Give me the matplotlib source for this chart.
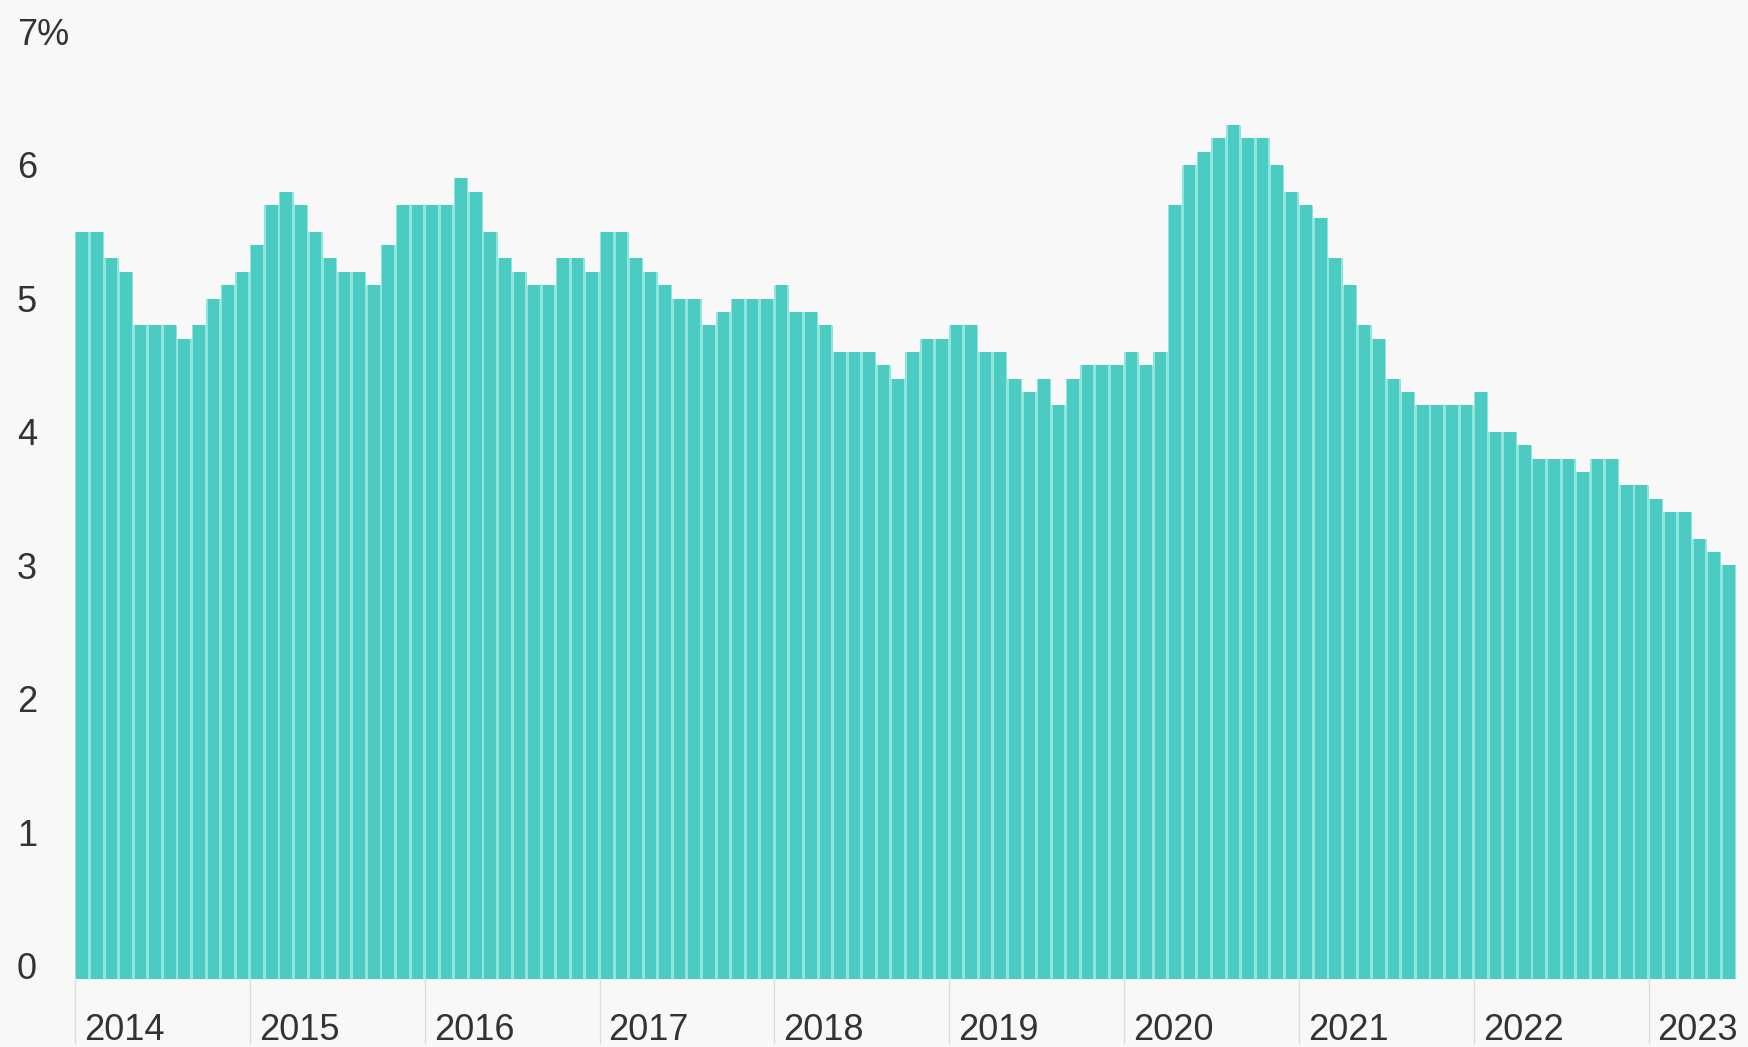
import matplotlib
matplotlib.use("Agg")
import matplotlib.pyplot as plt
import numpy as np

# monthly values, Jan 2014 - Jun 2023 (%)
years = ["2014", "2015", "2016", "2017", "2018", "2019", "2020", "2021", "2022", "2023"]
v2014 = [5.6, 5.6, 5.4, 5.3, 4.9, 4.9, 4.9, 4.8, 4.9, 5.1, 5.2, 5.3]
v2015 = [5.5, 5.8, 5.9, 5.8, 5.6, 5.4, 5.3, 5.3, 5.2, 5.5, 5.8, 5.8]
v2016 = [5.8, 5.8, 6.0, 5.9, 5.6, 5.4, 5.3, 5.2, 5.2, 5.4, 5.4, 5.3]
v2017 = [5.6, 5.6, 5.4, 5.3, 5.2, 5.1, 5.1, 4.9, 5.0, 5.1, 5.1, 5.1]
v2018 = [5.2, 5.0, 5.0, 4.9, 4.7, 4.7, 4.7, 4.6, 4.5, 4.7, 4.8, 4.8]
v2019 = [4.9, 4.9, 4.7, 4.7, 4.5, 4.4, 4.5, 4.3, 4.5, 4.6, 4.6, 4.6]
v2020 = [4.7, 4.6, 4.7, 5.8, 6.1, 6.2, 6.3, 6.4, 6.3, 6.3, 6.1, 5.9]
v2021 = [5.8, 5.7, 5.4, 5.2, 4.9, 4.8, 4.5, 4.4, 4.3, 4.3, 4.3, 4.3]
v2022 = [4.4, 4.1, 4.1, 4.0, 3.9, 3.9, 3.9, 3.8, 3.9, 3.9, 3.7, 3.7]
v2023 = [3.6, 3.5, 3.5, 3.3, 3.2, 3.1]

y_ticks = [0, 1, 2, 3, 4, 5, 6, 7]
y_labels = ["0", "1", "2", "3", "4", "5", "6", "7%"]

values = v2014 + v2015 + v2016 + v2017 + v2018 + v2019 + v2020 + v2021 + v2022 + v2023
x = np.arange(len(values))

plt.rcParams["font.family"] = ["Liberation Sans", "DejaVu Sans"]
bg = "#f8f8f8"
text_color = "#333333"

W, H = 1749, 1047
fig = plt.figure(figsize=(W / 100, H / 100), dpi=100, facecolor=bg)
ax = fig.add_axes([75 / W, 68 / H, (1736 - 75) / W, (1002 - 68) / H])
ax.set_facecolor(bg)

# light layer shows through as the thin separators between bars
ax.bar(x, values, width=1.0, color="#8fe6dc", linewidth=0)
ax.bar(x, values, width=0.8, color="#4bcbc2", linewidth=0)

ax.set_xlim(-0.5, len(values) - 0.5)
ax.set_ylim(0, 7)
for s in ax.spines.values():
    s.set_visible(False)

# y labels sit on top of their value, left aligned at the figure edge
ax.set_yticks([])
for t, lab in zip(y_ticks, y_labels):
    ax.annotate(lab, xy=(17, t), xycoords=("figure pixels", "data"),
                ha="left", va="baseline", fontsize=26, color=text_color,
                annotation_clip=False)

# year ticks: thin grey lines below the bars, label to the right of each
year_pos = [i * 12 - 0.5 for i in range(len(years))]
ax.set_xticks(year_pos)
ax.set_xticklabels([])
ax.tick_params(axis="x", length=47, width=1, color="#dddddd", direction="out", pad=0)
for xp, yr in zip(year_pos, years):
    ax.annotate(yr, xy=(xp, 7), xycoords=("data", "figure pixels"),
                xytext=(6.5, 0), textcoords="offset points",
                ha="left", va="baseline", fontsize=26, color=text_color,
                annotation_clip=False)

fig.savefig("out.png", dpi=100, facecolor=bg)
